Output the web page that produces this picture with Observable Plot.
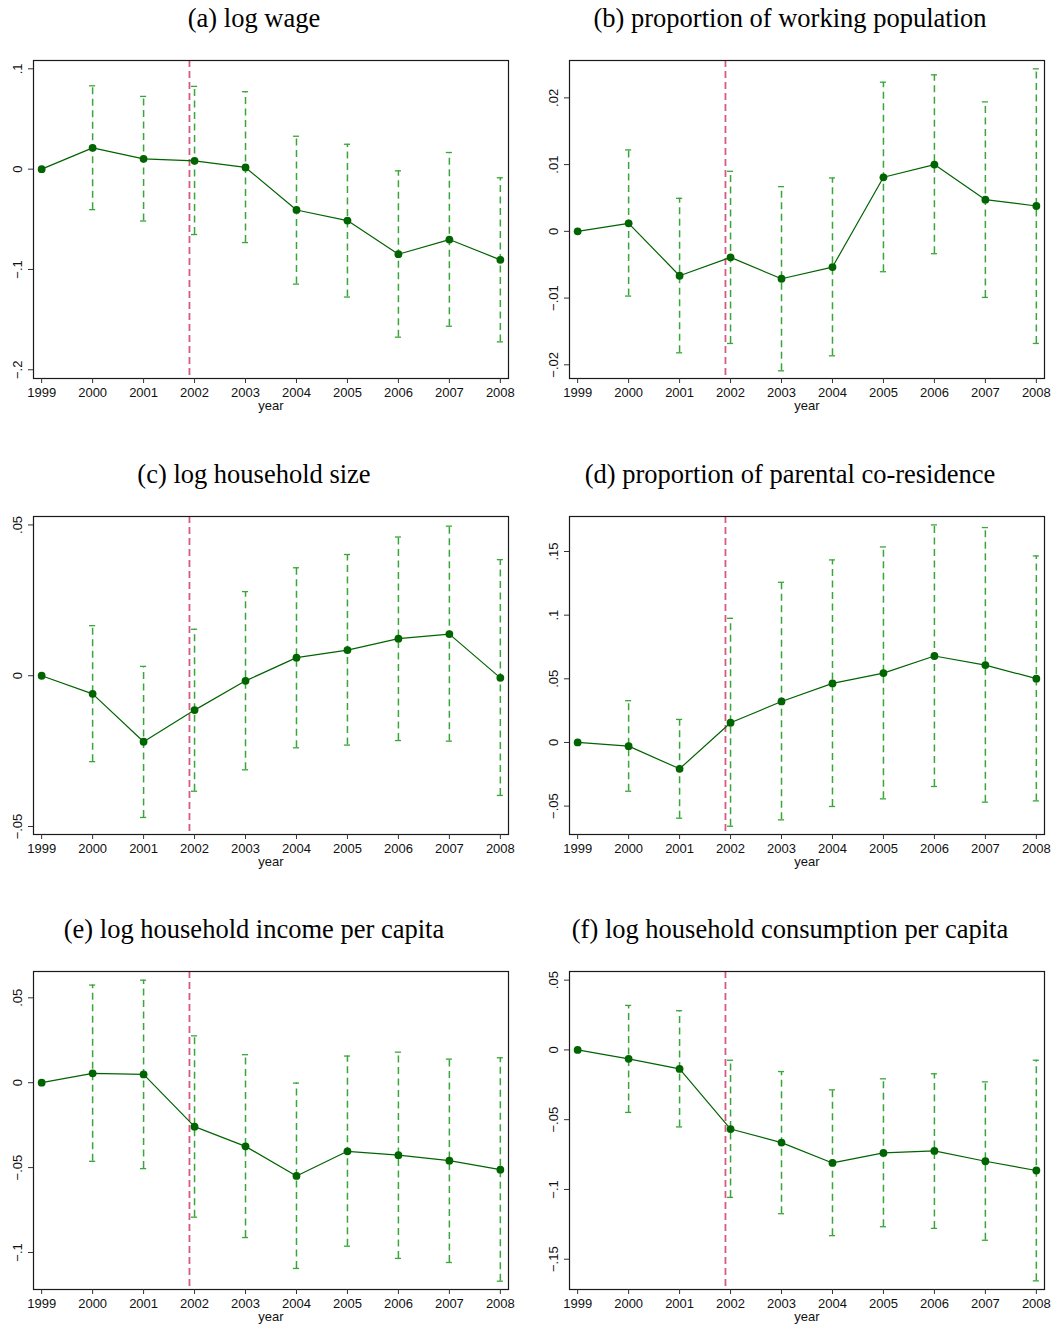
<!DOCTYPE html>
<html>
<head>
<meta charset="utf-8">
<script src="https://cdn.jsdelivr.net/npm/d3@7"></script>
<script src="https://cdn.jsdelivr.net/npm/@observablehq/plot@0.6"></script>
<style>
  html, body { margin: 0; padding: 0; background: #fff; }
  #page { position: relative; width: 1056px; height: 1326px; background: #fff; overflow: hidden; }
  .title {
    position: absolute; width: 508px; text-align: center;
    font-family: "Liberation Serif", "Times New Roman", serif;
    font-size: 26.5px; color: #000; line-height: 30px; white-space: nowrap;
  }
  .panel { position: absolute; width: 528px; height: 370px; }
  .panel svg { max-width: none !important; }
</style>
</head>
<body>
<div id="page"></div>
<script>
// Event-study estimates by survey year (1999 is the reference year)
const years = [1999, 2000, 2001, 2002, 2003, 2004, 2005, 2006, 2007, 2008];
const eventYear = 2001.9;

const titles = [
  "(a) log wage",
  "(b) proportion of working population",
  "(c) log household size",
  "(d) proportion of parental co-residence",
  "(e) log household income per capita",
  "(f) log household consumption per capita"
];

// (a) log wage
const coefA = [0, 0.0212, 0.0103, 0.0083, 0.0017, -0.0407, -0.0513, -0.0848, -0.0702, -0.0904];
const hiA   = [null, 0.0831, 0.0725, 0.0825, 0.0772, 0.0328, 0.0248, -0.0017, 0.0166, -0.0086];
const loA   = [null, -0.0404, -0.0517, -0.0652, -0.0732, -0.1146, -0.1275, -0.1675, -0.1566, -0.1722];
const ticksA = [-0.2, -0.1, 0, 0.1];

// (b) proportion of working population
const coefB = [0, 0.0012, -0.00665, -0.0039, -0.0071, -0.00535, 0.0081, 0.0100, 0.00475, 0.0038];
const hiB   = [null, 0.0122, 0.00495, 0.0090, 0.0067, 0.0080, 0.02235, 0.02345, 0.0194, 0.02435];
const loB   = [null, -0.0097, -0.0182, -0.0168, -0.0209, -0.01865, -0.00605, -0.00335, -0.0099, -0.0168];
const ticksB = [-0.02, -0.01, 0, 0.01, 0.02];

// (c) log household size
const coefC = [0, -0.0060, -0.0219, -0.0114, -0.0017, 0.0060, 0.0085, 0.0123, 0.0138, -0.0007];
const hiC   = [null, 0.0166, 0.0031, 0.0154, 0.0279, 0.0358, 0.0402, 0.0460, 0.0496, 0.0385];
const loC   = [null, -0.0285, -0.0470, -0.0383, -0.0312, -0.0239, -0.0230, -0.0215, -0.0217, -0.0397];
const ticksC = [-0.05, 0, 0.05];

// (d) proportion of parental co-residence
const coefD = [0, -0.0029, -0.0207, 0.0155, 0.0322, 0.0464, 0.0545, 0.0679, 0.0608, 0.0501];
const hiD   = [null, 0.0328, 0.0181, 0.0975, 0.1258, 0.1434, 0.1536, 0.1709, 0.1688, 0.1465];
const loD   = [null, -0.0383, -0.0595, -0.0658, -0.0608, -0.0503, -0.0443, -0.0346, -0.0469, -0.0459];
const ticksD = [-0.05, 0, 0.05, 0.1, 0.15];

// (e) log household income per capita
const coefE = [0, 0.0055, 0.0049, -0.0259, -0.0375, -0.0549, -0.0404, -0.0427, -0.0459, -0.0512];
const hiE   = [null, 0.0575, 0.0604, 0.0276, 0.0165, -0.0002, 0.0157, 0.0180, 0.0139, 0.0147];
const loE   = [null, -0.0463, -0.0506, -0.0792, -0.0912, -0.1094, -0.0963, -0.1035, -0.1059, -0.1169];
const ticksE = [-0.1, -0.05, 0, 0.05];

// (f) log household consumption per capita
const coefF = [0, -0.0064, -0.0136, -0.0567, -0.0664, -0.0810, -0.0738, -0.0724, -0.0798, -0.0864];
const hiF   = [null, 0.0319, 0.0281, -0.0074, -0.0155, -0.0286, -0.0207, -0.0171, -0.0229, -0.0074];
const loF   = [null, -0.0448, -0.0552, -0.1057, -0.1174, -0.1331, -0.1267, -0.1279, -0.1364, -0.1655];
const ticksF = [-0.15, -0.1, -0.05, 0, 0.05];

const panels = [
  {coef: coefA, hi: hiA, lo: loA, ticks: ticksA, domain: [-0.2087, 0.1083]},
  {coef: coefB, hi: hiB, lo: loB, ticks: ticksB, domain: [-0.02205, 0.0256]},
  {coef: coefC, hi: hiC, lo: loC, ticks: ticksC, domain: [-0.05265, 0.0528]},
  {coef: coefD, hi: hiD, lo: loD, ticks: ticksD, domain: [-0.0723, 0.1775]},
  {coef: coefE, hi: hiE, lo: loE, ticks: ticksE, domain: [-0.1218, 0.0655]},
  {coef: coefF, hi: hiF, lo: loF, ticks: ticksF, domain: [-0.1717, 0.0562]}
];

// Stata-style labels: ".05", "−.1", "0"
const stataFmt = d => {
  if (d === 0) return "0";
  const s = String(Math.abs(d)).replace(/^0/, "");
  return (d < 0 ? "\u2212" : "") + s;
};

const ciColor = "#3aa53a";
const ptColor = "#006400";
const capHalf = 0.06;

const page = document.getElementById("page");
const colLeft = [0, 536];
const rowTop = [0, 456, 911];

panels.forEach((p, i) => {
  const col = i % 2, row = Math.floor(i / 2);
  const rows = years.map((year, j) => ({year, coef: p.coef[j], hi: p.hi[j], lo: p.lo[j]}));
  const ci = rows.filter(d => d.hi != null && d.lo != null);

  const title = document.createElement("div");
  title.className = "title";
  title.style.left = colLeft[col] + "px";
  title.style.top = (rowTop[row] + 3) + "px";
  title.textContent = titles[i];
  page.appendChild(title);

  const chart = Plot.plot({
    width: 528,
    height: 370,
    marginLeft: 33,
    marginRight: 20,
    marginTop: 10,
    marginBottom: 42,
    style: {fontFamily: '"Liberation Sans", Arial, Helvetica, sans-serif', fontSize: "13px", background: "white", color: "#111", overflow: "visible", maxWidth: "none"},
    x: {domain: [1998.84, 2008.16]},
    y: {domain: p.domain},
    marks: [
      Plot.ruleX([eventYear], {stroke: "#d65a82", strokeWidth: 1.8, strokeDasharray: "7,4"}),
      Plot.ruleX(ci, {x: "year", y1: "lo", y2: "hi", stroke: ciColor, strokeWidth: 1.5, strokeDasharray: "7,4.5"}),
      Plot.ruleY(ci, {y: "hi", x1: d => d.year - capHalf, x2: d => d.year + capHalf, stroke: ciColor, strokeWidth: 1.3}),
      Plot.ruleY(ci, {y: "lo", x1: d => d.year - capHalf, x2: d => d.year + capHalf, stroke: ciColor, strokeWidth: 1.3}),
      Plot.line(rows, {x: "year", y: "coef", stroke: ptColor, strokeWidth: 1.2}),
      Plot.dot(rows, {x: "year", y: "coef", r: 3.9, fill: ptColor, stroke: "none"}),
      Plot.frame({stroke: "#1a1a1a", strokeWidth: 1.2}),
      Plot.axisY({ticks: p.ticks, tickFormat: stataFmt, tickRotate: -90, tickSize: 5, tickPadding: 7, label: null, stroke: "#333"}),
      Plot.axisX({ticks: years, tickFormat: d => String(d), tickSize: 5, tickPadding: 4, label: "year", labelAnchor: "center", labelArrow: "none", labelOffset: 31, stroke: "#333"})
    ]
  });
  const holder = document.createElement("div");
  holder.className = "panel";
  holder.style.left = colLeft[col] + "px";
  holder.style.top = (rowTop[row] + 50) + "px";
  holder.appendChild(chart);
  page.appendChild(holder);
});
</script>
</body>
</html>
